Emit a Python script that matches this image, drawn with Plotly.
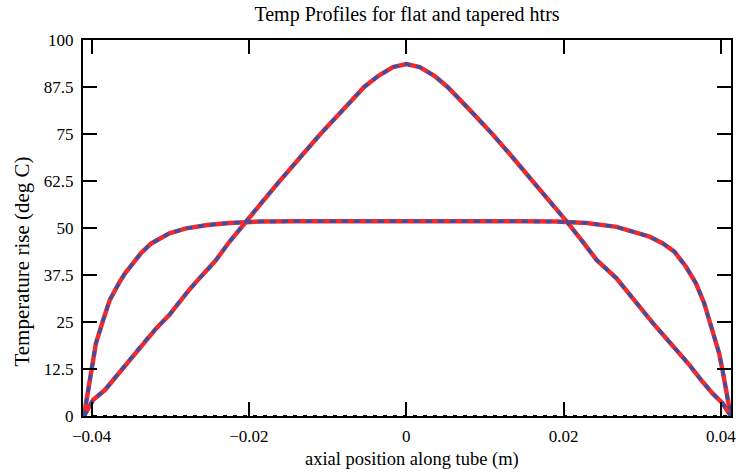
import plotly.graph_objects as go

# Tapered heater profile
x_taper = [-0.04098, -0.03980, -0.03832, -0.03727, -0.03601, -0.03475, -0.03348, -0.03179,
           -0.03011, -0.02885, -0.02758, -0.02632, -0.02506, -0.02421, -0.02253, -0.02042,
           -0.01832, -0.01621, -0.01369, -0.01091, -0.00800, -0.00535, -0.00358, -0.00169,
           0.0, 0.00172, 0.00362, 0.00526, 0.00804, 0.01095, 0.01373, 0.01625, 0.01827,
           0.02042, 0.02244, 0.02421, 0.02674, 0.02842, 0.02968, 0.03137, 0.03305, 0.03473,
           0.03600, 0.03769, 0.03895, 0.04022, 0.04127]
y_taper = [0, 4.3, 6.9, 9.6, 12.7, 15.8, 19.3, 23.3,
           26.9, 30.4, 33.6, 36.6, 39.3, 41.4, 46.2, 51.7,
           57.0, 62.2, 68.3, 75.0, 81.5, 87.5, 90.4, 92.8,
           93.6, 92.8, 90.4, 87.5, 81.5, 75.0, 68.3, 62.2, 57.0,
           51.7, 46.4, 41.5, 36.6, 32.2, 29.1, 24.7, 20.7, 16.7,
           13.6, 9.1, 6.0, 3.4, 0]

# Flat heater profile
x_flat = [-0.04098, -0.04000, -0.03946, -0.03854, -0.03769, -0.03643, -0.03580, -0.03475,
          -0.03369, -0.03242, -0.03011, -0.02800, -0.02527, -0.02253, -0.01874, -0.01369,
          0.0, 0.01410, 0.01916, 0.02295, 0.02674, 0.03094, 0.03264, 0.03410, 0.03558,
          0.03684, 0.03789, 0.03895, 0.03979, 0.04022, 0.04063, 0.04127]
y_flat = [0, 12.2, 19.3, 25.5, 30.9, 35.7, 37.8, 40.6,
          43.4, 45.9, 48.6, 49.9, 50.8, 51.3, 51.7, 51.8,
          51.9, 51.8, 51.7, 51.3, 50.3, 47.7, 45.9, 43.7, 39.7,
          35.3, 30.0, 22.9, 16.7, 12.2, 7.8, 0]

x_zero = [-0.0411, 0.0413]
y_zero = [0, 0]

x_tickvals = [-0.04, -0.02, 0, 0.02, 0.04]
x_ticktext = ["\u22120.04", "\u22120.02", "0", "0.02", "0.04"]
y_tickvals = [0, 12.5, 25, 37.5, 50, 62.5, 75, 87.5, 100]
y_ticktext = ["0", "12.5", "25", "37.5", "50", "62.5", "75", "87.5", "100"]

RED = "#f42a2a"
BLUE = "#3850a8"

fig = go.Figure()
fig.add_trace(go.Scatter(x=x_zero, y=y_zero, mode="lines",
                         line=dict(color="black", width=2, dash="4px,6px"), hoverinfo="skip"))
for xs, ys in [(x_flat, y_flat), (x_taper, y_taper)]:
    fig.add_trace(go.Scatter(x=xs, y=ys, mode="lines", line=dict(color=RED, width=4.5)))
    fig.add_trace(go.Scatter(x=xs, y=ys, mode="lines",
                             line=dict(color=BLUE, width=3.5, dash="6px,6px")))

FAM = "Liberation Serif, Times New Roman, serif"
fig.update_layout(
    width=745, height=473,
    margin=dict(l=83, r=9, t=40, b=57),
    paper_bgcolor="white", plot_bgcolor="white",
    showlegend=False,
    font=dict(family=FAM, color="black", size=17),
    title=dict(text="Temp Profiles for flat and tapered htrs", x=0.5, xref="paper",
               y=1 - 14 / 473, yref="container", yanchor="middle",
               font=dict(family=FAM, color="black", size=20)),
    annotations=[
        dict(text="axial position along tube (m)", xref="paper", yref="paper",
             x=0.508, y=(416 - 459) / 376, xanchor="center", yanchor="middle",
             showarrow=False, font=dict(family=FAM, color="black", size=18.5)),
        dict(text="Temperature rise (deg C)", xref="paper", yref="paper",
             x=(21.5 - 83.3) / 652.4, y=(416 - 262) / 376, xanchor="center",
             yanchor="middle", textangle=-90, showarrow=False,
             font=dict(family=FAM, color="black", size=21)),
    ],
)
fig.update_xaxes(range=[-0.0411, 0.0413], tickvals=x_tickvals, ticktext=x_ticktext,
                 showgrid=False, zeroline=False, showline=True, linecolor="black", linewidth=2,
                 mirror="ticks", ticks="inside", ticklen=14, tickwidth=2, tickcolor="black",
                 ticklabelstandoff=4)
fig.update_yaxes(range=[0, 100], tickvals=y_tickvals, ticktext=y_ticktext,
                 showgrid=False, zeroline=False, showline=True, linecolor="black", linewidth=2,
                 mirror="ticks", ticks="inside", ticklen=14, tickwidth=2, tickcolor="black",
                 ticklabelstandoff=4)

fig.write_html("out.html")
